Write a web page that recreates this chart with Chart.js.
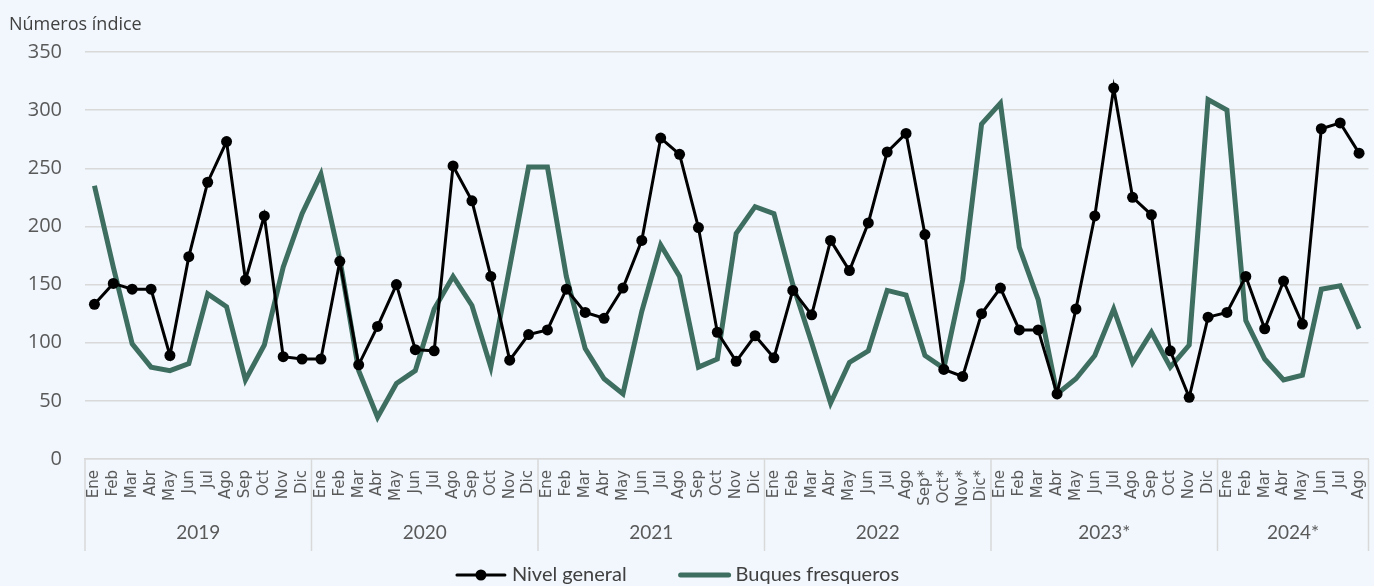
<!DOCTYPE html>
<html lang="es">
<head>
<meta charset="utf-8">
<title>Números índice</title>
<script src="https://cdn.jsdelivr.net/npm/chart.js@4.4.1/dist/chart.umd.min.js"></script>
<style>
  html, body { margin: 0; padding: 0; background: #F1F7FD; }
  #wrap { position: relative; width: 1374px; height: 586px; }
</style>
</head>
<body>
<div id="wrap"><canvas id="chart"></canvas></div>
<script>
// ── Data ───────────────────────────────────────
const Y_TITLE = 'Números índice';

const MONTH_LABELS = [
  'Ene','Feb','Mar','Abr','May','Jun','Jul','Ago','Sep','Oct','Nov','Dic',       // 2019
  'Ene','Feb','Mar','Abr','May','Jun','Jul','Ago','Sep','Oct','Nov','Dic',       // 2020
  'Ene','Feb','Mar','Abr','May','Jun','Jul','Ago','Sep','Oct','Nov','Dic',       // 2021
  'Ene','Feb','Mar','Abr','May','Jun','Jul','Ago','Sep*','Oct*','Nov*','Dic*',   // 2022
  'Ene','Feb','Mar','Abr','May','Jun','Jul','Ago','Sep','Oct','Nov','Dic',       // 2023*
  'Ene','Feb','Mar','Abr','May','Jun','Jul','Ago',                               // 2024*
];

const YEAR_LABELS = ['2019', '2020', '2021', '2022', '2023*', '2024*'];
const YEAR_MONTHS = [12, 12, 12, 12, 12, 8];

const NIVEL_GENERAL = [
  133, 151, 146, 146,  89, 174, 238, 273, 154, 209,  88,  86,
   86, 170,  81, 114, 150,  94,  93, 252, 222, 157,  85, 107,
  111, 146, 126, 121, 147, 188, 276, 262, 199, 109,  84, 106,
   87, 145, 124, 188, 162, 203, 264, 280, 193,  77,  71, 125,
  147, 111, 111,  56, 129, 209, 319, 225, 210,  93,  53, 122,
  126, 157, 112, 153, 116, 284, 289, 263,
];

const BUQUES_FRESQUEROS = [
  235, 165,  99,  79,  76,  82, 142, 131,  68,  98, 165, 211,
  245, 172,  76,  36,  65,  76, 129, 157, 132,  79, 165, 251,
  251, 157,  95,  69,  56, 127, 184, 157,  79,  86, 194, 217,
  211, 150, 100,  48,  83,  93, 145, 141,  89,  78, 154, 288,
  306, 182, 137,  56,  69,  89, 129,  83, 109,  79,  98, 309,
  300, 119,  86,  68,  72, 146, 149, 112,
];

const BG_COLOR    = '#F1F7FD';
const GRID_COLOR  = '#D9D9D9';
const TEXT_COLOR  = '#595959';
const GREEN       = '#3E6E60';


// ── Year row, title and legend (drawn on the canvas) ──
const extras = {
  id: 'extras',
  beforeDraw(chart) {
    const ctx = chart.ctx;
    ctx.save();
    ctx.fillStyle = BG_COLOR;
    ctx.fillRect(0, 0, chart.width, chart.height);
    ctx.restore();
  },
  afterDraw(chart) {
    const { ctx, chartArea: area, scales: { x } } = chart;
    const half = (x.getPixelForValue(1) - x.getPixelForValue(0)) / 2;
    ctx.save();

    // axis title
    ctx.fillStyle = '#404040';
    ctx.font = '18px "Open Sans"';
    ctx.textAlign = 'left';
    ctx.textBaseline = 'middle';
    ctx.fillText(Y_TITLE, 9, 25);

    // year separators + labels
    const bounds = [x.getPixelForValue(0) - half];
    let idx = 0;
    YEAR_MONTHS.forEach(n => { idx += n; bounds.push(x.getPixelForValue(idx - 1) + half); });

    ctx.strokeStyle = GRID_COLOR;
    ctx.lineWidth = 1.5;
    bounds.forEach(bx => {
      ctx.beginPath();
      ctx.moveTo(bx, area.bottom);
      ctx.lineTo(bx, 551);
      ctx.stroke();
    });

    ctx.fillStyle = TEXT_COLOR;
    ctx.font = '19px Lato';
    ctx.textAlign = 'center';
    YEAR_LABELS.forEach((lbl, i) => ctx.fillText(lbl, (bounds[i] + bounds[i + 1]) / 2, 533));

    // legend
    const ly = 575, markW = 52, gap = 5, spacing = 52;
    ctx.font = '20px Lato';
    const items = chart.data.datasets.map(ds => ({
      text: ds.label, color: ds.borderColor, width: ds.borderWidth, dot: ds.pointRadius > 0,
      tw: ctx.measureText(ds.label).width,
    }));
    const total = items.reduce((s, it) => s + markW + gap + it.tw, 0) + spacing * (items.length - 1);
    let lx = chart.width / 2 - 10 - total / 2;
    ctx.textAlign = 'left';
    items.forEach(it => {
      ctx.strokeStyle = it.color;
      ctx.lineWidth = it.width;
      ctx.lineCap = 'round';
      ctx.beginPath();
      ctx.moveTo(lx + 2, ly);
      ctx.lineTo(lx + markW - 2, ly);
      ctx.stroke();
      if (it.dot) {
        ctx.fillStyle = it.color;
        ctx.beginPath();
        ctx.arc(lx + markW / 2, ly, 5.5, 0, Math.PI * 2);
        ctx.fill();
      }
      ctx.fillStyle = '#404040';
      ctx.fillText(it.text, lx + markW + gap, ly);
      lx += markW + gap + it.tw + spacing;
    });

    ctx.restore();
  },
};


// ── Chart ──────────────────────────────────────
new Chart(document.getElementById('chart'), {
  type: 'line',
  data: {
    labels: MONTH_LABELS,
    datasets: [
      {
        label: 'Nivel general',
        data: NIVEL_GENERAL,
        borderColor: '#000000',
        backgroundColor: '#000000',
        borderWidth: 3,
        pointRadius: 5.5,
        pointBackgroundColor: '#000000',
        pointBorderWidth: 0,
        tension: 0,
      },
      {
        label: 'Buques fresqueros',
        data: BUQUES_FRESQUEROS,
        borderColor: GREEN,
        backgroundColor: GREEN,
        borderWidth: 5,
        pointRadius: 0,
        tension: 0,
      },
    ],
  },
  options: {
    responsive: true,
    maintainAspectRatio: false,
    animation: false,
    layout: { padding: { top: 52, right: 4, left: 0, bottom: 0 } },
    plugins: {
      legend: { display: false },
      tooltip: { enabled: false },
    },
    scales: {
      x: {
        offset: true,
        grid: { display: false, drawTicks: false, offset: true },
        border: { display: true, color: GRID_COLOR, width: 1.5 },
        ticks: {
          autoSkip: false, minRotation: 90, maxRotation: 90, padding: 11,
          color: TEXT_COLOR, font: { family: 'DejaVu Sans', size: 15 },
        },
        afterFit: s => { s.height = 127; s.paddingLeft = 0; s.paddingRight = 0; },
      },
      y: {
        min: 0, max: 350,
        ticks: { stepSize: 50, padding: 23, color: TEXT_COLOR, font: { family: 'Open Sans', size: 20 } },
        grid: { color: GRID_COLOR, lineWidth: 1.5, drawTicks: false },
        border: { display: false },
        afterFit: s => { s.width = 85; },
      },
    },
  },
  plugins: [extras],
});
</script>
</body>
</html>
